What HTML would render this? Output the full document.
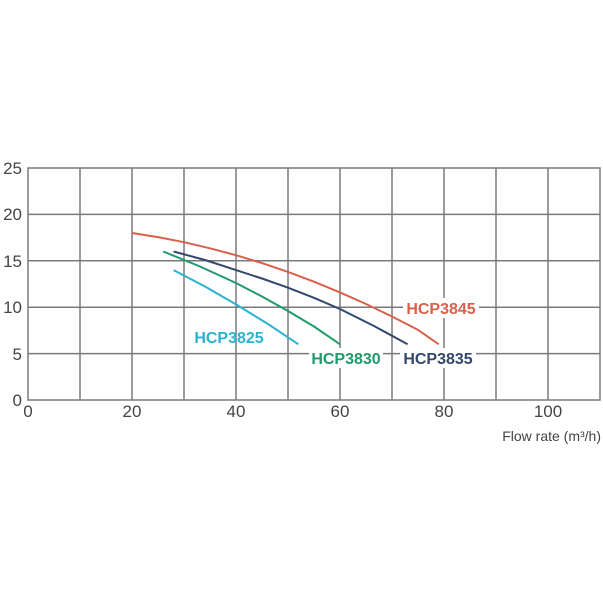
<!DOCTYPE html>
<html><head><style>body{margin:0;background:#fff}svg{display:block}</style></head><body>
<svg width="603" height="603" xmlns="http://www.w3.org/2000/svg" font-family="Liberation Sans, sans-serif">
<g stroke="#7a7a7a" stroke-width="1.5" fill="none">
<rect x="28" y="168" width="572" height="232"/>
<path d="M80 168V400M132 168V400M184 168V400M236 168V400M288 168V400M340 168V400M392 168V400M444 168V400M496 168V400M548 168V400"/>
<path d="M28 214.4H600M28 260.8H600M28 307.2H600M28 353.6H600"/>
</g>
<g font-size="17" fill="#444">
<text x="22" y="174" text-anchor="end">25</text>
<text x="22" y="220" text-anchor="end">20</text>
<text x="22" y="267" text-anchor="end">15</text>
<text x="22" y="313" text-anchor="end">10</text>
<text x="22" y="360" text-anchor="end">5</text>
<text x="22" y="406" text-anchor="end">0</text>
<text x="28" y="417" text-anchor="middle">0</text>
<text x="132" y="417" text-anchor="middle">20</text>
<text x="236" y="417" text-anchor="middle">40</text>
<text x="340" y="417" text-anchor="middle">60</text>
<text x="444" y="417" text-anchor="middle">80</text>
<text x="548" y="417" text-anchor="middle">100</text>
<text x="601" y="441" text-anchor="end" font-size="14">Flow rate (m³/h)</text>
</g>
<g fill="none" stroke-width="2" stroke-linejoin="round">
<polyline stroke="#d9604a" points="132,233 158,237.1 184,242.2 210,248.3 236,255.2 262,263.1 288,271.9 314,281.7 340,292.4 366,304 392,316.5 418,329.9 438.8,344.3"/>
<polyline stroke="#34476e" points="173.6,251.5 205,260 236,270.1 262,278.5 288,287.7 314,297.8 340,309 374,326 407.6,344.3"/>
<polyline stroke="#1f9a6a" points="163.2,251.5 200,266.5 236,283 262,296.5 288,311 314,326.5 340,344.3"/>
<polyline stroke="#2ab2cf" points="173.6,270.1 205,286.5 236,304.4 268,324 298.4,344.3"/>
</g>
<g font-size="16" font-weight="bold">
<rect x="403" y="298" width="76" height="20" fill="#fff"/>
<text x="441" y="314" text-anchor="middle" fill="#d9604a">HCP3845</text>
<rect x="400" y="348" width="76" height="20" fill="#fff"/>
<text x="438" y="364" text-anchor="middle" fill="#34476e">HCP3835</text>
<rect x="309" y="348" width="74" height="20" fill="#fff"/>
<text x="346" y="364" text-anchor="middle" fill="#1f9a6a">HCP3830</text>
<text x="229" y="343" text-anchor="middle" fill="#2ab2cf">HCP3825</text>
</g>
</svg>
</body></html>
